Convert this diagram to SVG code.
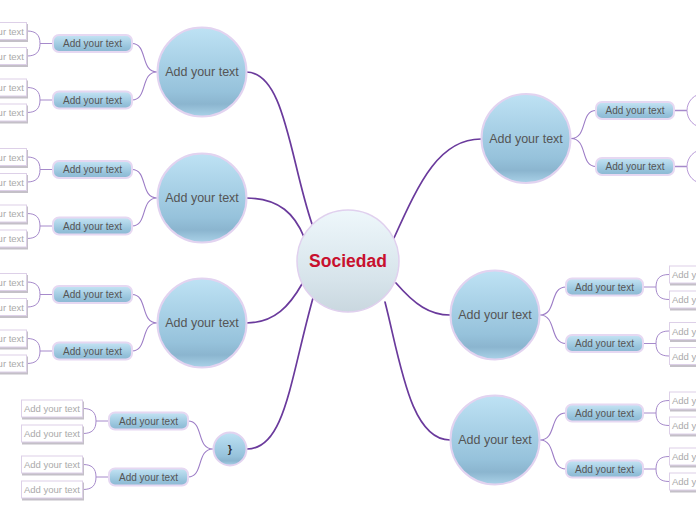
<svg xmlns="http://www.w3.org/2000/svg" width="696" height="520" viewBox="0 0 696 520">
<defs>
<linearGradient id="gCenter" x1="0" y1="0" x2="0" y2="1">
<stop offset="0" stop-color="#eef7fb"/><stop offset="0.7" stop-color="#d6e3ea"/><stop offset="1" stop-color="#c9d7df"/>
</linearGradient>
<linearGradient id="gMain" x1="0" y1="0" x2="0" y2="1">
<stop offset="0" stop-color="#bee2f4"/><stop offset="0.72" stop-color="#96c2db"/><stop offset="0.86" stop-color="#8bb5cf"/><stop offset="1" stop-color="#aad2e8"/>
</linearGradient>
<linearGradient id="gSub" x1="0" y1="0" x2="0" y2="1">
<stop offset="0" stop-color="#c4e4f4"/><stop offset="0.75" stop-color="#94c1da"/><stop offset="1" stop-color="#8cb8d2"/>
</linearGradient>
<style>
.main circle{fill:url(#gMain);stroke:#e2d3f0;stroke-width:2}
.sub rect{fill:url(#gSub);stroke:#e6d8f2;stroke-width:2}
.leaf .sh{fill:#c4c0c8}
.leaf .bx{fill:#ffffff;stroke:#ddd0e8;stroke-width:1}
.t{font-family:"Liberation Sans",Arial,sans-serif;text-anchor:middle;dominant-baseline:central}
.tm{font-size:12.5px;fill:#555555}
.ts{font-size:10px;fill:#555555}
.tl{font-size:9.5px;fill:#aaaaaa}
.c1{fill:none;stroke:#6a3a9c;stroke-width:1.7;stroke-linecap:round}
.c2{fill:none;stroke:#9c7cc6;stroke-width:1.1}
.c3{fill:none;stroke:#a68acb;stroke-width:1}
</style>
</defs>
<rect width="696" height="520" fill="#ffffff"/>
<g id="connectors">
<path class="c1" d="M312,224 C290,160 285,72 246,72"/>
<path class="c1" d="M304,237 C295,215 280,198 246,198"/>
<path class="c1" d="M302,284 C290,305 275,323 246,323"/>
<path class="c1" d="M313,298 C290,380 285,449 247,449"/>
<path class="c1" d="M394,238 C420,180 440,139 481,139"/>
<path class="c1" d="M396,283 C415,305 430,315 450,315"/>
<path class="c1" d="M385,302 C400,360 410,440 450,440"/>
<path class="c2" d="M157,72 C140,72 148,43.5 132,43.5 M157,72 C140,72 148,100 132,100"/>
<path class="c2" d="M157,198 C140,198 148,169.5 132,169.5 M157,198 C140,198 148,226 132,226"/>
<path class="c2" d="M157,323 C140,323 148,294.5 132,294.5 M157,323 C140,323 148,351 132,351"/>
<path class="c2" d="M213,449 C196,449 204,421 188,421 M213,449 C196,449 204,477 188,477"/>
<path class="c2" d="M571,138.5 C588,138.5 580,110.5 596,110.5 M571,138.5 C588,138.5 580,166.5 596,166.5"/>
<path class="c2" d="M540,315 C557,315 549,287 566,287 M540,315 C557,315 549,343.5 566,343.5"/>
<path class="c2" d="M540,440 C557,440 549,413 566,413 M540,440 C557,440 549,469 566,469"/>
<path class="c3" d="M53,43.5 H40 M27,31 C36,31 40,35 40,43.5 C40,52 36,56 27,56"/>
<path class="c3" d="M53,100 H40 M27,87.5 C36,87.5 40,91.5 40,100 C40,108.5 36,112.5 27,112.5"/>
<path class="c3" d="M53,169.5 H40 M27,157 C36,157 40,161 40,169.5 C40,178 36,182 27,182"/>
<path class="c3" d="M53,226 H40 M27,213.5 C36,213.5 40,217.5 40,226 C40,234.5 36,238.5 27,238.5"/>
<path class="c3" d="M53,294.5 H40 M27,282 C36,282 40,286 40,294.5 C40,303 36,307 27,307"/>
<path class="c3" d="M53,351 H40 M27,338.5 C36,338.5 40,342.5 40,351 C40,359.5 36,363.5 27,363.5"/>
<path class="c3" d="M109,421 H96 M83,408.5 C92,408.5 96,412.5 96,421 C96,429.5 92,433.5 83,433.5"/>
<path class="c3" d="M109,477 H96 M83,464.5 C92,464.5 96,468.5 96,477 C96,485.5 92,489.5 83,489.5"/>
<path class="c3" d="M643,287 H656 M669,274.5 C660,274.5 656,278.5 656,287 C656,295.5 660,299.5 669,299.5"/>
<path class="c3" d="M643,343.5 H656 M669,331 C660,331 656,335 656,343.5 C656,352 660,356 669,356"/>
<path class="c3" d="M643,413 H656 M669,400.5 C660,400.5 656,404.5 656,413 C656,421.5 660,425.5 669,425.5"/>
<path class="c3" d="M643,469 H656 M669,456.5 C660,456.5 656,460.5 656,469 C656,477.5 660,481.5 669,481.5"/>
<path class="c3" d="M674,110.5 H687 M674,166.5 H687" style="stroke-width:1.6"/>
</g>
<g id="center">
<circle cx="348" cy="261" r="51" fill="url(#gCenter)" stroke="#e0d0ee" stroke-width="1.5"/>
<text class="t" x="348" y="261" style="font-size:17.5px;font-weight:bold;fill:#c8102e">Sociedad</text>
</g>
<g id="m1" class="main"><circle cx="202" cy="72" r="44.5"/><text class="t tm" x="202" y="72">Add your text</text></g>
<g id="m2" class="main"><circle cx="202" cy="198" r="44.5"/><text class="t tm" x="202" y="198">Add your text</text></g>
<g id="m3" class="main"><circle cx="202" cy="323" r="44.5"/><text class="t tm" x="202" y="323">Add your text</text></g>
<g id="m4" class="main"><circle cx="230" cy="449" r="16.5"/><text class="t" x="230" y="449" style="font-size:11px;font-weight:bold;fill:#333">}</text></g>
<g id="m5" class="main"><circle cx="526" cy="138.5" r="44.5"/><text class="t tm" x="526" y="138.5">Add your text</text></g>
<g id="m6" class="main"><circle cx="495" cy="315" r="44.5"/><text class="t tm" x="495" y="315">Add your text</text></g>
<g id="m7" class="main"><circle cx="495" cy="440" r="44.5"/><text class="t tm" x="495" y="440">Add your text</text></g>
<g id="s1" class="sub"><rect x="53" y="35" width="79" height="17" rx="6"/><text class="t ts" x="92.5" y="43.5">Add your text</text></g>
<g id="s2" class="sub"><rect x="53" y="91.5" width="79" height="17" rx="6"/><text class="t ts" x="92.5" y="100">Add your text</text></g>
<g id="s3" class="sub"><rect x="53" y="161" width="79" height="17" rx="6"/><text class="t ts" x="92.5" y="169.5">Add your text</text></g>
<g id="s4" class="sub"><rect x="53" y="217.5" width="79" height="17" rx="6"/><text class="t ts" x="92.5" y="226">Add your text</text></g>
<g id="s5" class="sub"><rect x="53" y="286" width="79" height="17" rx="6"/><text class="t ts" x="92.5" y="294.5">Add your text</text></g>
<g id="s6" class="sub"><rect x="53" y="342.5" width="79" height="17" rx="6"/><text class="t ts" x="92.5" y="351">Add your text</text></g>
<g id="s7" class="sub"><rect x="109" y="412.5" width="79" height="17" rx="6"/><text class="t ts" x="148.5" y="421">Add your text</text></g>
<g id="s8" class="sub"><rect x="109" y="468.5" width="79" height="17" rx="6"/><text class="t ts" x="148.5" y="477">Add your text</text></g>
<g id="s9" class="sub"><rect x="596" y="102" width="78" height="17" rx="6"/><text class="t ts" x="635" y="110.5">Add your text</text></g>
<g id="s10" class="sub"><rect x="596" y="158" width="78" height="17" rx="6"/><text class="t ts" x="635" y="166.5">Add your text</text></g>
<g id="s11" class="sub"><rect x="566" y="278.5" width="77" height="17" rx="6"/><text class="t ts" x="604.5" y="287">Add your text</text></g>
<g id="s12" class="sub"><rect x="566" y="335" width="77" height="17" rx="6"/><text class="t ts" x="604.5" y="343.5">Add your text</text></g>
<g id="s13" class="sub"><rect x="566" y="404.5" width="77" height="17" rx="6"/><text class="t ts" x="604.5" y="413">Add your text</text></g>
<g id="s14" class="sub"><rect x="566" y="460.5" width="77" height="17" rx="6"/><text class="t ts" x="604.5" y="469">Add your text</text></g>
<g id="r1"><circle cx="704" cy="110.5" r="17" fill="#ffffff" stroke="#b89ad8" stroke-width="1"/></g>
<g id="r2"><circle cx="704" cy="166.5" r="17" fill="#ffffff" stroke="#b89ad8" stroke-width="1"/></g>
<g id="l1" class="leaf"><rect class="sh" x="-34" y="24" width="62" height="18"/><rect class="bx" x="-34.5" y="22.5" width="61" height="17"/><text class="t tl" x="-4" y="31">Add your text</text></g>
<g id="l2" class="leaf"><rect class="sh" x="-34" y="49" width="62" height="18"/><rect class="bx" x="-34.5" y="47.5" width="61" height="17"/><text class="t tl" x="-4" y="56">Add your text</text></g>
<g id="l3" class="leaf"><rect class="sh" x="-34" y="80.5" width="62" height="18"/><rect class="bx" x="-34.5" y="79" width="61" height="17"/><text class="t tl" x="-4" y="87.5">Add your text</text></g>
<g id="l4" class="leaf"><rect class="sh" x="-34" y="105.5" width="62" height="18"/><rect class="bx" x="-34.5" y="104" width="61" height="17"/><text class="t tl" x="-4" y="112.5">Add your text</text></g>
<g id="l5" class="leaf"><rect class="sh" x="-34" y="150" width="62" height="18"/><rect class="bx" x="-34.5" y="148.5" width="61" height="17"/><text class="t tl" x="-4" y="157">Add your text</text></g>
<g id="l6" class="leaf"><rect class="sh" x="-34" y="175" width="62" height="18"/><rect class="bx" x="-34.5" y="173.5" width="61" height="17"/><text class="t tl" x="-4" y="182">Add your text</text></g>
<g id="l7" class="leaf"><rect class="sh" x="-34" y="206.5" width="62" height="18"/><rect class="bx" x="-34.5" y="205" width="61" height="17"/><text class="t tl" x="-4" y="213.5">Add your text</text></g>
<g id="l8" class="leaf"><rect class="sh" x="-34" y="231.5" width="62" height="18"/><rect class="bx" x="-34.5" y="230" width="61" height="17"/><text class="t tl" x="-4" y="238.5">Add your text</text></g>
<g id="l9" class="leaf"><rect class="sh" x="-34" y="275" width="62" height="18"/><rect class="bx" x="-34.5" y="273.5" width="61" height="17"/><text class="t tl" x="-4" y="282">Add your text</text></g>
<g id="l10" class="leaf"><rect class="sh" x="-34" y="300" width="62" height="18"/><rect class="bx" x="-34.5" y="298.5" width="61" height="17"/><text class="t tl" x="-4" y="307">Add your text</text></g>
<g id="l11" class="leaf"><rect class="sh" x="-34" y="331.5" width="62" height="18"/><rect class="bx" x="-34.5" y="330" width="61" height="17"/><text class="t tl" x="-4" y="338.5">Add your text</text></g>
<g id="l12" class="leaf"><rect class="sh" x="-34" y="356.5" width="62" height="18"/><rect class="bx" x="-34.5" y="355" width="61" height="17"/><text class="t tl" x="-4" y="363.5">Add your text</text></g>
<g id="l13" class="leaf"><rect class="sh" x="22" y="401.5" width="62" height="18"/><rect class="bx" x="21.5" y="400" width="61" height="17"/><text class="t tl" x="52" y="408.5">Add your text</text></g>
<g id="l14" class="leaf"><rect class="sh" x="22" y="426.5" width="62" height="18"/><rect class="bx" x="21.5" y="425" width="61" height="17"/><text class="t tl" x="52" y="433.5">Add your text</text></g>
<g id="l15" class="leaf"><rect class="sh" x="22" y="457.5" width="62" height="18"/><rect class="bx" x="21.5" y="456" width="61" height="17"/><text class="t tl" x="52" y="464.5">Add your text</text></g>
<g id="l16" class="leaf"><rect class="sh" x="22" y="482.5" width="62" height="18"/><rect class="bx" x="21.5" y="481" width="61" height="17"/><text class="t tl" x="52" y="489.5">Add your text</text></g>
<g id="l17" class="leaf"><rect class="sh" x="670" y="267.5" width="62" height="18"/><rect class="bx" x="669.5" y="266" width="61" height="17"/><text class="t tl" x="700" y="274.5">Add your text</text></g>
<g id="l18" class="leaf"><rect class="sh" x="670" y="292.5" width="62" height="18"/><rect class="bx" x="669.5" y="291" width="61" height="17"/><text class="t tl" x="700" y="299.5">Add your text</text></g>
<g id="l19" class="leaf"><rect class="sh" x="670" y="324" width="62" height="18"/><rect class="bx" x="669.5" y="322.5" width="61" height="17"/><text class="t tl" x="700" y="331">Add your text</text></g>
<g id="l20" class="leaf"><rect class="sh" x="670" y="349" width="62" height="18"/><rect class="bx" x="669.5" y="347.5" width="61" height="17"/><text class="t tl" x="700" y="356">Add your text</text></g>
<g id="l21" class="leaf"><rect class="sh" x="670" y="393.5" width="62" height="18"/><rect class="bx" x="669.5" y="392" width="61" height="17"/><text class="t tl" x="700" y="400.5">Add your text</text></g>
<g id="l22" class="leaf"><rect class="sh" x="670" y="418.5" width="62" height="18"/><rect class="bx" x="669.5" y="417" width="61" height="17"/><text class="t tl" x="700" y="425.5">Add your text</text></g>
<g id="l23" class="leaf"><rect class="sh" x="670" y="449.5" width="62" height="18"/><rect class="bx" x="669.5" y="448" width="61" height="17"/><text class="t tl" x="700" y="456.5">Add your text</text></g>
<g id="l24" class="leaf"><rect class="sh" x="670" y="474.5" width="62" height="18"/><rect class="bx" x="669.5" y="473" width="61" height="17"/><text class="t tl" x="700" y="481.5">Add your text</text></g>
</svg>
